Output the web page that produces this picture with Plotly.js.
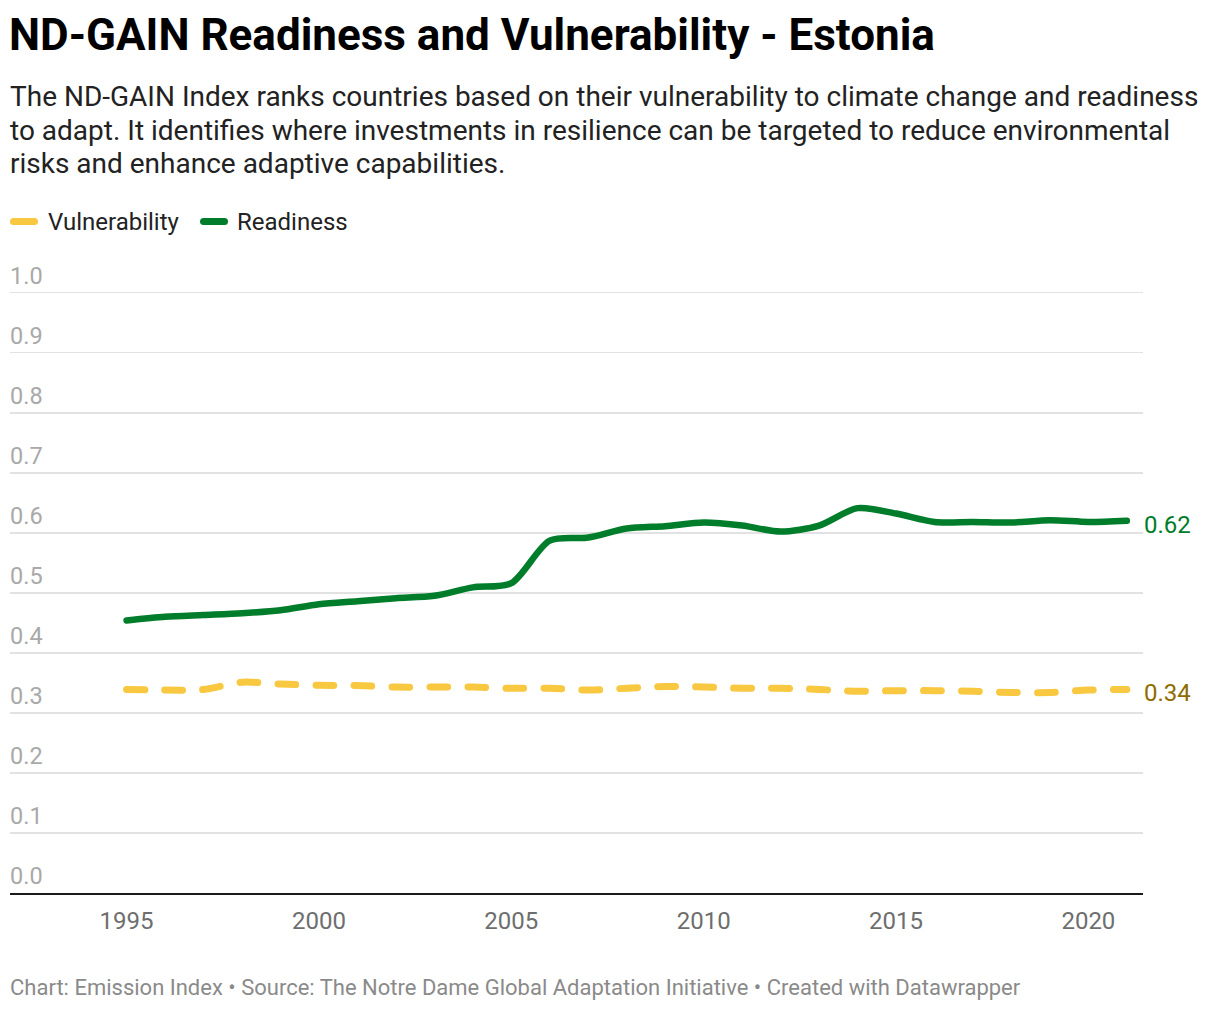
<!DOCTYPE html>
<html>
<head>
<meta charset="utf-8">
<script src="https://cdn.plot.ly/plotly-3.0.1.min.js"></script>
<style>
html,body{margin:0;padding:0;background:#fff;}
#chart{width:1220px;height:1010px;}
</style>
</head>
<body>
<div id="chart"></div>
<script>
// ---- data ----
const years = [1995,1996,1997,1998,1999,2000,2001,2002,2003,2004,2005,2006,2007,2008,2009,2010,2011,2012,2013,2014,2015,2016,2017,2018,2019,2020,2021];
const readiness = [0.454,0.460,0.463,0.466,0.471,0.481,0.486,0.491,0.495,0.509,0.516,0.587,0.592,0.607,0.611,0.617,0.612,0.602,0.612,0.641,0.632,0.618,0.618,0.617,0.621,0.618,0.620];
const vulnerability = [0.339,0.338,0.339,0.351,0.348,0.346,0.3455,0.343,0.343,0.343,0.341,0.341,0.338,0.341,0.344,0.343,0.341,0.341,0.339,0.336,0.337,0.337,0.336,0.334,0.334,0.338,0.339];
const xTickVals = [1995,2000,2005,2010,2015,2020];
const yTickVals = [0,0.1,0.2,0.3,0.4,0.5,0.6,0.7,0.8,0.9,1.0];
const yTickLabels = ["0.0","0.1","0.2","0.3","0.4","0.5","0.6","0.7","0.8","0.9","1.0"];
const seriesNames = ["Vulnerability","Readiness"];
const titleText = "ND-GAIN Readiness and Vulnerability - Estonia";
const subtitleLines = [
  "The ND-GAIN Index ranks countries based on their vulnerability to climate change and readiness",
  "to adapt. It identifies where investments in resilience can be targeted to reduce environmental",
  "risks and enhance adaptive capabilities."
];
const footerText = "Chart: Emission Index \u2022 Source: The Notre Dame Global Adaptation Initiative \u2022 Created with Datawrapper";

// ---- style ----
const GREEN = "#007d2a";
const YELLOW = "#f8c840";
const GOLD = "#8e6c00";
const FONT = "Roboto, 'Noto Sans', sans-serif";

// plot area: x 10..1143; y: 0 at 893px, 1.0 at 293px (range extended slightly so top gridline shows)
const W = 1220, H = 1010;
const YMAX = 1.006;
const L = 10, R = 1143, B = 893, T = B - 600 * YMAX;
const py = p => (B - p) / (B - T);   // pixel y -> paper y
const px = p => (p - L) / (R - L);   // pixel x -> paper x

const traces = [
  {
    x: years, y: vulnerability, name: seriesNames[0], type: "scatter", mode: "lines",
    line: {color: YELLOW, width: 7, shape: "spline", smoothing: 0.8, dash: "18px,20px"},
    hoverinfo: "skip", showlegend: false
  },
  {
    x: years, y: readiness, name: seriesNames[1], type: "scatter", mode: "lines",
    line: {color: GREEN, width: 6.5, shape: "spline", smoothing: 0.8},
    hoverinfo: "skip", showlegend: false
  }
];

const annotations = [];
// y tick labels above gridlines
yTickVals.forEach((v, i) => {
  annotations.push({
    xref: "paper", yref: "y", x: 0, y: v, xanchor: "left", yanchor: "bottom",
    text: yTickLabels[i], showarrow: false, xshift: -2, yshift: 1,
    font: {family: FONT, size: 23.5, color: "#a9a9a9"}
  });
});
// subtitle lines
const subY = [97, 131, 164];
subtitleLines.forEach((s, i) => {
  annotations.push({
    xref: "paper", yref: "paper", x: px(10), y: py(subY[i]), xanchor: "left", yanchor: "middle",
    text: s, showarrow: false, xshift: -2,
    font: {family: FONT, size: 28, color: "#222"}
  });
});
// legend texts
annotations.push({xref:"paper", yref:"paper", x: px(46), y: py(222), xanchor:"left", yanchor:"middle",
  text: seriesNames[0], showarrow:false, font:{family:FONT, size:24, color:"#222"}});
annotations.push({xref:"paper", yref:"paper", x: px(235), y: py(222), xanchor:"left", yanchor:"middle",
  text: seriesNames[1], showarrow:false, font:{family:FONT, size:24, color:"#222"}});
// end labels
const lastR = readiness[readiness.length-1], lastV = vulnerability[vulnerability.length-1];
annotations.push({xref:"x", yref:"y", x: years[years.length-1], y: lastR, xanchor:"left", yanchor:"middle",
  text: lastR.toFixed(2), showarrow:false, xshift: 15, yshift: -4, font:{family:FONT, size:24, color:GREEN}});
annotations.push({xref:"x", yref:"y", x: years[years.length-1], y: lastV, xanchor:"left", yanchor:"middle",
  text: lastV.toFixed(2), showarrow:false, xshift: 15, yshift: -4, font:{family:FONT, size:24, color:GOLD}});
// footer
annotations.push({xref:"paper", yref:"paper", x: px(10), y: py(987), xanchor:"left", yanchor:"middle",
  text: footerText, showarrow:false, xshift: -2, font:{family:FONT, size:22, color:"#8a8a8a"}});

const shapes = [
  {type:"line", xref:"paper", yref:"paper", x0: px(13.5), x1: px(34.5), y0: py(222), y1: py(222),
   line:{color: YELLOW, width: 7}},
  {type:"line", xref:"paper", yref:"paper", x0: px(203.5), x1: px(224.5), y0: py(222), y1: py(222),
   line:{color: GREEN, width: 7}}
];

const layout = {
  width: W, height: H,
  margin: {l: L, r: W - R, t: T, b: H - B, pad: 0},
  paper_bgcolor: "#fff", plot_bgcolor: "#fff",
  font: {family: FONT},
  title: {
    text: "<b>" + titleText + "</b>",
    xref: "container", yref: "container", x: 9/W, xanchor: "left",
    y: 1 - 35/H, yanchor: "middle",
    font: {family: FONT, size: 44, color: "#000"}
  },
  xaxis: {
    range: [1991.97, 2021.42], tickvals: xTickVals, ticks: "", showgrid: false, zeroline: false,
    showline: true, linecolor: "#1a1a1a", linewidth: 2,
    tickfont: {family: FONT, size: 24, color: "#6e6e6e"}, ticklabelstandoff: 5, fixedrange: true
  },
  yaxis: {
    range: [0, YMAX], tickvals: yTickVals, showticklabels: false, ticks: "",
    showgrid: true, gridcolor: "#e2e2e2", gridwidth: 1.7, zeroline: false, fixedrange: true
  },
  showlegend: false,
  annotations: annotations,
  shapes: shapes
};

Plotly.newPlot("chart", traces, layout, {staticPlot: true, displayModeBar: false}).then(() => {
  document.querySelectorAll(".scatterlayer path.js-line").forEach(p => {
    p.style.strokeLinecap = "round"; p.style.strokeLinejoin = "round";
  });
  document.querySelectorAll(".shapelayer path").forEach(p => { p.style.strokeLinecap = "round"; });
});
</script>
</body>
</html>
